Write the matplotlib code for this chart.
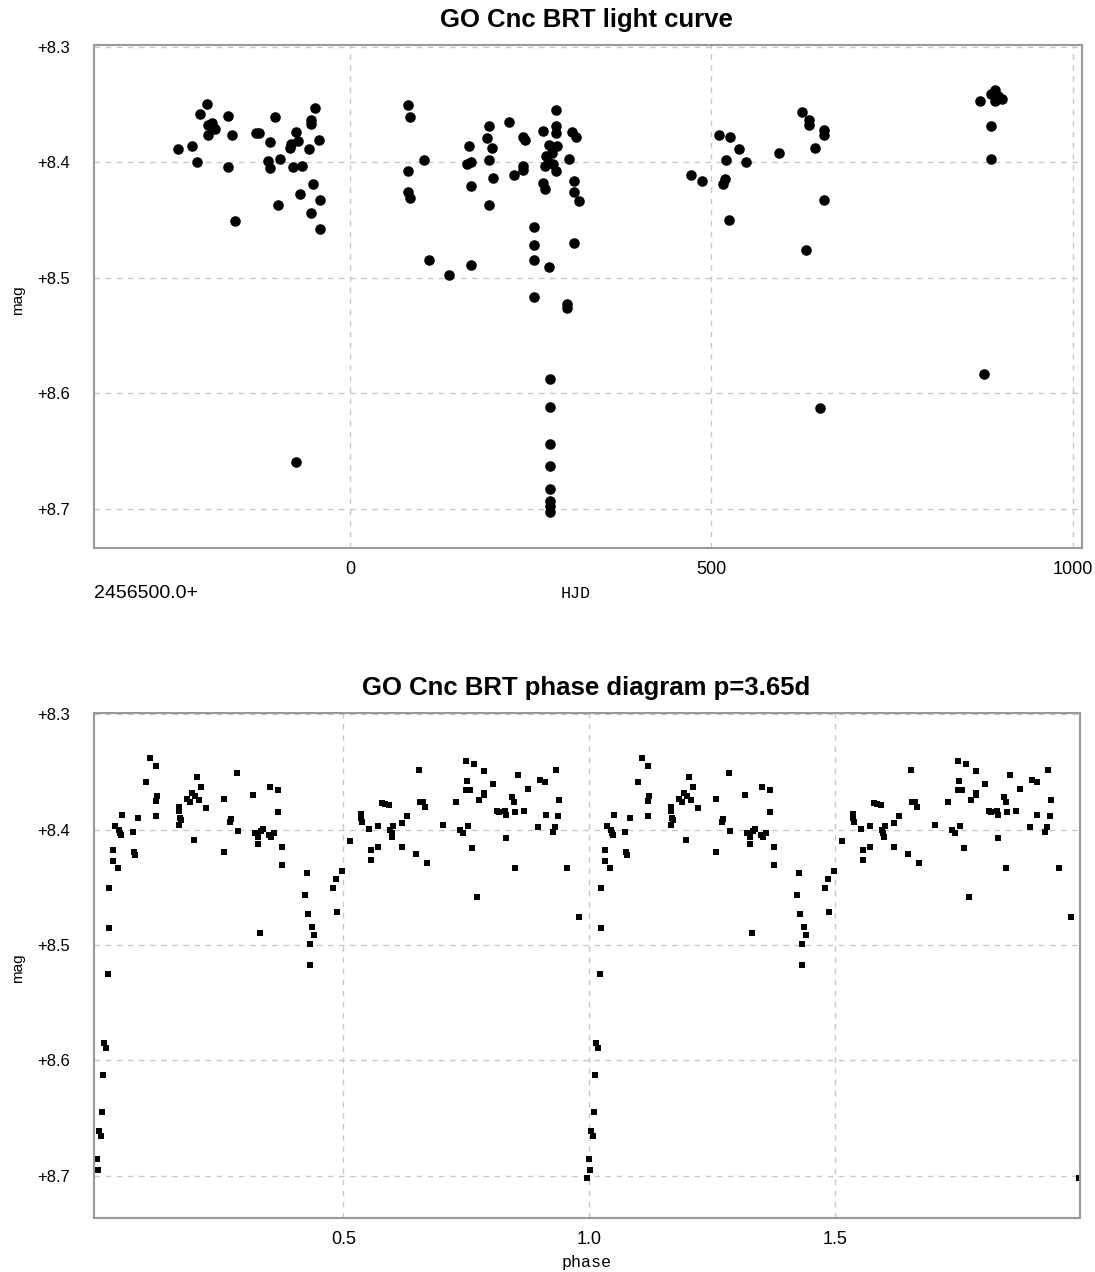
import matplotlib
matplotlib.use("Agg")
import matplotlib.pyplot as plt

# light curve data (HJD - 2456500.0, magnitude)
hjd = [-198, -208, -168, -196, -191, -187, -196, -190, -163, -238,
       -218, -211, -168, -159, -130, -126, -103, -111, -113, -111,
       -96, -99, -74, -72, -83, -81, -79, -66, -56, -48,
       -54, -54, -43, -51, -69, -41, -54, -41, -74,
       81, 83, 81, 81, 83, 103, 110, 137, 168, 165,
       162, 168, 168, 193, 190, 196, 193, 198, 193, 220,
       240, 243, 240, 240, 227, 255, 255, 255, 275, 267,
       285, 285, 285, 275, 286, 279, 272, 275, 270, 281,
       285, 267, 270, 303, 308, 313, 310, 310, 317, 310,
       255, 300, 300, 277, 277, 277, 277, 277, 277, 277, 277,
       472, 487, 511, 526, 539, 521, 548, 519, 516, 524,
       594, 626, 635, 635, 656, 656, 644, 656, 631, 651,
       872, 887, 893, 897, 902, 892, 887, 887, 878]
mag = [8.350, 8.358, 8.360, 8.368, 8.366, 8.371, 8.377, 8.370, 8.377, 8.389,
       8.386, 8.400, 8.404, 8.451, 8.375, 8.375, 8.361, 8.383, 8.399, 8.405,
       8.397, 8.437, 8.374, 8.382, 8.388, 8.384, 8.404, 8.403, 8.389, 8.353,
       8.364, 8.367, 8.381, 8.419, 8.428, 8.433, 8.444, 8.458, 8.660,
       8.351, 8.361, 8.408, 8.426, 8.431, 8.398, 8.485, 8.498, 8.489, 8.386,
       8.402, 8.400, 8.421, 8.369, 8.379, 8.388, 8.398, 8.414, 8.437, 8.365,
       8.378, 8.381, 8.403, 8.407, 8.411, 8.456, 8.472, 8.485, 8.491, 8.373,
       8.355, 8.369, 8.375, 8.385, 8.386, 8.392, 8.395, 8.401, 8.403, 8.402,
       8.408, 8.418, 8.423, 8.397, 8.374, 8.378, 8.416, 8.426, 8.434, 8.470,
       8.517, 8.523, 8.526, 8.588, 8.612, 8.644, 8.663, 8.683, 8.693, 8.698, 8.703,
       8.411, 8.416, 8.377, 8.378, 8.389, 8.398, 8.400, 8.415, 8.419, 8.450,
       8.392, 8.357, 8.364, 8.368, 8.372, 8.377, 8.388, 8.433, 8.476, 8.613,
       8.347, 8.341, 8.338, 8.343, 8.345, 8.347, 8.369, 8.397, 8.583]

# phase diagram data (one cycle, drawn twice)
phase = [0.107, 0.119, 0.100, 0.121, 0.119, 0.119, 0.050, 0.083, 0.035, 0.045,
         0.048, 0.046, 0.072, 0.031, 0.031, 0.043, 0.075, 0.077, 0.024, 0.024,
         0.166, 0.166, 0.168, 0.167, 0.170, 0.182, 0.188, 0.192, 0.199, 0.207,
         0.203, 0.211, 0.221, 0.197, 0.258, 0.283, 0.270, 0.272, 0.287, 0.258,
         0.316, 0.352, 0.368, 0.368, 0.321, 0.327, 0.327, 0.332, 0.337, 0.348,
         0.354, 0.360, 0.375, 0.375, 0.331, 0.426, 0.422, 0.429, 0.437, 0.440,
         0.432, 0.432, 0.498, 0.485, 0.480, 0.487, 0.514,
         0.022, 0.014, 0.017, 0.011, 0.009, 0.003, 0.007, 0.000, 0.002, 0.995,
         0.535, 0.537, 0.539, 0.553, 0.556, 0.556, 0.571, 0.571, 0.578, 0.585,
         0.593, 0.595, 0.598, 0.602, 0.600, 0.619, 0.630, 0.619, 0.648, 0.654,
         0.656, 0.663, 0.666, 0.671, 0.702, 0.729, 0.737, 0.743, 0.754, 0.749,
         0.766, 0.751, 0.749, 0.758, 0.786, 0.785, 0.786, 0.776, 0.761, 0.771,
         0.805, 0.812, 0.817, 0.829, 0.830, 0.831, 0.842, 0.846, 0.849, 0.856,
         0.867, 0.848, 0.875, 0.900, 0.910, 0.911, 0.896, 0.932, 0.939, 0.937,
         0.930, 0.926, 0.955, 0.980]
phase_mag = [8.338, 8.345, 8.359, 8.371, 8.375, 8.388, 8.387, 8.390, 8.397, 8.400,
             8.405, 8.403, 8.402, 8.418, 8.427, 8.433, 8.419, 8.422, 8.451, 8.485,
             8.380, 8.384, 8.390, 8.396, 8.392, 8.373, 8.376, 8.368, 8.371, 8.374,
             8.354, 8.363, 8.381, 8.409, 8.373, 8.351, 8.393, 8.391, 8.401, 8.419,
             8.370, 8.363, 8.366, 8.385, 8.403, 8.406, 8.412, 8.401, 8.399, 8.405,
             8.406, 8.403, 8.415, 8.431, 8.490, 8.438, 8.457, 8.473, 8.484, 8.491,
             8.499, 8.517, 8.436, 8.443, 8.451, 8.471, 8.410,
             8.525, 8.585, 8.589, 8.613, 8.645, 8.661, 8.666, 8.686, 8.695, 8.702,
             8.386, 8.390, 8.393, 8.399, 8.418, 8.426, 8.397, 8.415, 8.377, 8.378,
             8.379, 8.400, 8.403, 8.397, 8.406, 8.394, 8.388, 8.415, 8.421, 8.348,
             8.376, 8.376, 8.380, 8.429, 8.396, 8.376, 8.400, 8.403, 8.397, 8.340,
             8.343, 8.358, 8.366, 8.366, 8.349, 8.368, 8.370, 8.374, 8.416, 8.458,
             8.360, 8.384, 8.385, 8.384, 8.387, 8.407, 8.372, 8.376, 8.385, 8.353,
             8.384, 8.433, 8.365, 8.357, 8.359, 8.387, 8.398, 8.348, 8.374, 8.388,
             8.398, 8.402, 8.433, 8.476]

mag_ticks = [8.3, 8.4, 8.5, 8.6, 8.7]
mag_labels = ["+8.3", "+8.4", "+8.5", "+8.6", "+8.7"]

plt.rcParams['font.family'] = ['Liberation Sans', 'DejaVu Sans']

fig = plt.figure(figsize=(10.95, 12.72), dpi=100)
W, H = 1095.0, 1272.0


def style(ax):
    ax.set_yticks(mag_ticks)
    ax.set_yticklabels(mag_labels)
    ax.tick_params(axis='both', length=0)
    ax.tick_params(axis='y', pad=17, labelsize=12)
    ax.tick_params(axis='x', pad=9, labelsize=13)
    ax.grid(True, color='#c8c8c8', linestyle=(0, (4, 4)), linewidth=1)
    ax.set_axisbelow(True)
    for s in ax.spines.values():
        s.set_color('#999999')
        s.set_linewidth(1.5)


# top: light curve
ax1 = fig.add_axes([94 / W, 1 - 548 / H, 988 / W, 503 / H])
ax1.plot(hjd, mag, 'o', color='black', markersize=7.6, markeredgewidth=0)
ax1.set_xlim(-354, 1013)
ax1.set_ylim(8.734, 8.2987)
ax1.set_xticks([0, 500, 1000])
style(ax1)
fig.text(586 / W, 1 - 20 / H, "GO Cnc BRT light curve", ha='center', va='center',
         fontsize=18.5, fontweight='bold')
fig.text(18 / W, 1 - 300 / H, "mag", rotation=90, ha='center', va='center', fontsize=11)
fig.text(576 / W, 1 - 593 / H, "HJD", ha='center', va='center', fontsize=12,
         family='Liberation Mono')
fig.text(94 / W, 1 - 593 / H, "2456500.0+", ha='left', va='center', fontsize=14)

# bottom: phase diagram
ax2 = fig.add_axes([94 / W, 1 - 1218 / H, 986 / W, 505 / H])
ax2.plot(phase, phase_mag, 's', color='black', markersize=4.6, markeredgewidth=0)
ax2.plot([p + 1 for p in phase], phase_mag, 's', color='black', markersize=4.6,
         markeredgewidth=0)
ax2.set_xlim(-0.0067, 1.9974)
ax2.set_ylim(8.7368, 8.2988)
ax2.set_xticks([0.5, 1.0, 1.5])
ax2.set_xticklabels(["0.5", "1.0", "1.5"])
style(ax2)
fig.text(586 / W, 1 - 688 / H, "GO Cnc BRT phase diagram p=3.65d", ha='center',
         va='center', fontsize=18.5, fontweight='bold')
fig.text(18 / W, 1 - 968 / H, "mag", rotation=90, ha='center', va='center', fontsize=11)
fig.text(587 / W, 1 - 1262 / H, "phase", ha='center', va='center', fontsize=12,
         family='Liberation Mono')

fig.savefig("out.png", dpi=100)
